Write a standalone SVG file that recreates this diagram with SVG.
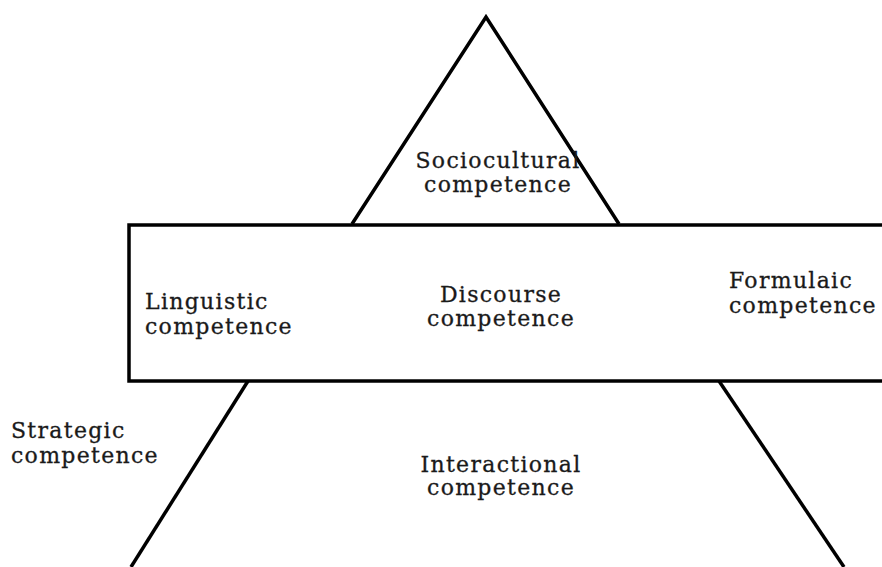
<svg xmlns="http://www.w3.org/2000/svg" width="882" height="567" viewBox="0 0 882 567">
  <style>
    .edge { fill: none; stroke: #000; stroke-width: 3.5; stroke-linecap: butt; stroke-linejoin: miter; }
    .lbl { font-family: "DejaVu Serif", "Liberation Serif", serif; font-size: 22px; letter-spacing: 1.3px; fill: #1a1a1a; stroke: #1a1a1a; stroke-width: 0.3; }
    .mid { text-anchor: middle; }
  </style>
  <rect width="882" height="567" fill="#fff"/>

  <!-- pyramid outline: apex above the band, legs below it -->
  <g id="pyramid">
    <polyline class="edge" points="352,224 486,17 619,224"/>
    <line class="edge" x1="248" y1="381" x2="131" y2="567"/>
    <line class="edge" x1="719" y1="381" x2="844" y2="567"/>
  </g>

  <!-- middle band, open past the right edge -->
  <g id="band">
    <rect class="edge" x="129" y="225" width="770" height="156"/>
  </g>

  <g id="sociocultural">
    <text class="lbl mid" x="498" y="168">Sociocultural</text>
    <text class="lbl mid" x="498" y="192">competence</text>
  </g>

  <g id="linguistic">
    <text class="lbl" x="145" y="309">Linguistic</text>
    <text class="lbl" x="145" y="334">competence</text>
  </g>

  <g id="discourse">
    <text class="lbl mid" x="501" y="302">Discourse</text>
    <text class="lbl mid" x="501" y="326">competence</text>
  </g>

  <g id="formulaic">
    <text class="lbl" x="729" y="288">Formulaic</text>
    <text class="lbl" x="729" y="313">competence</text>
  </g>

  <g id="strategic">
    <text class="lbl" x="11" y="438">Strategic</text>
    <text class="lbl" x="11" y="463">competence</text>
  </g>

  <g id="interactional">
    <text class="lbl mid" x="501" y="472">Interactional</text>
    <text class="lbl mid" x="501" y="495">competence</text>
  </g>
</svg>
